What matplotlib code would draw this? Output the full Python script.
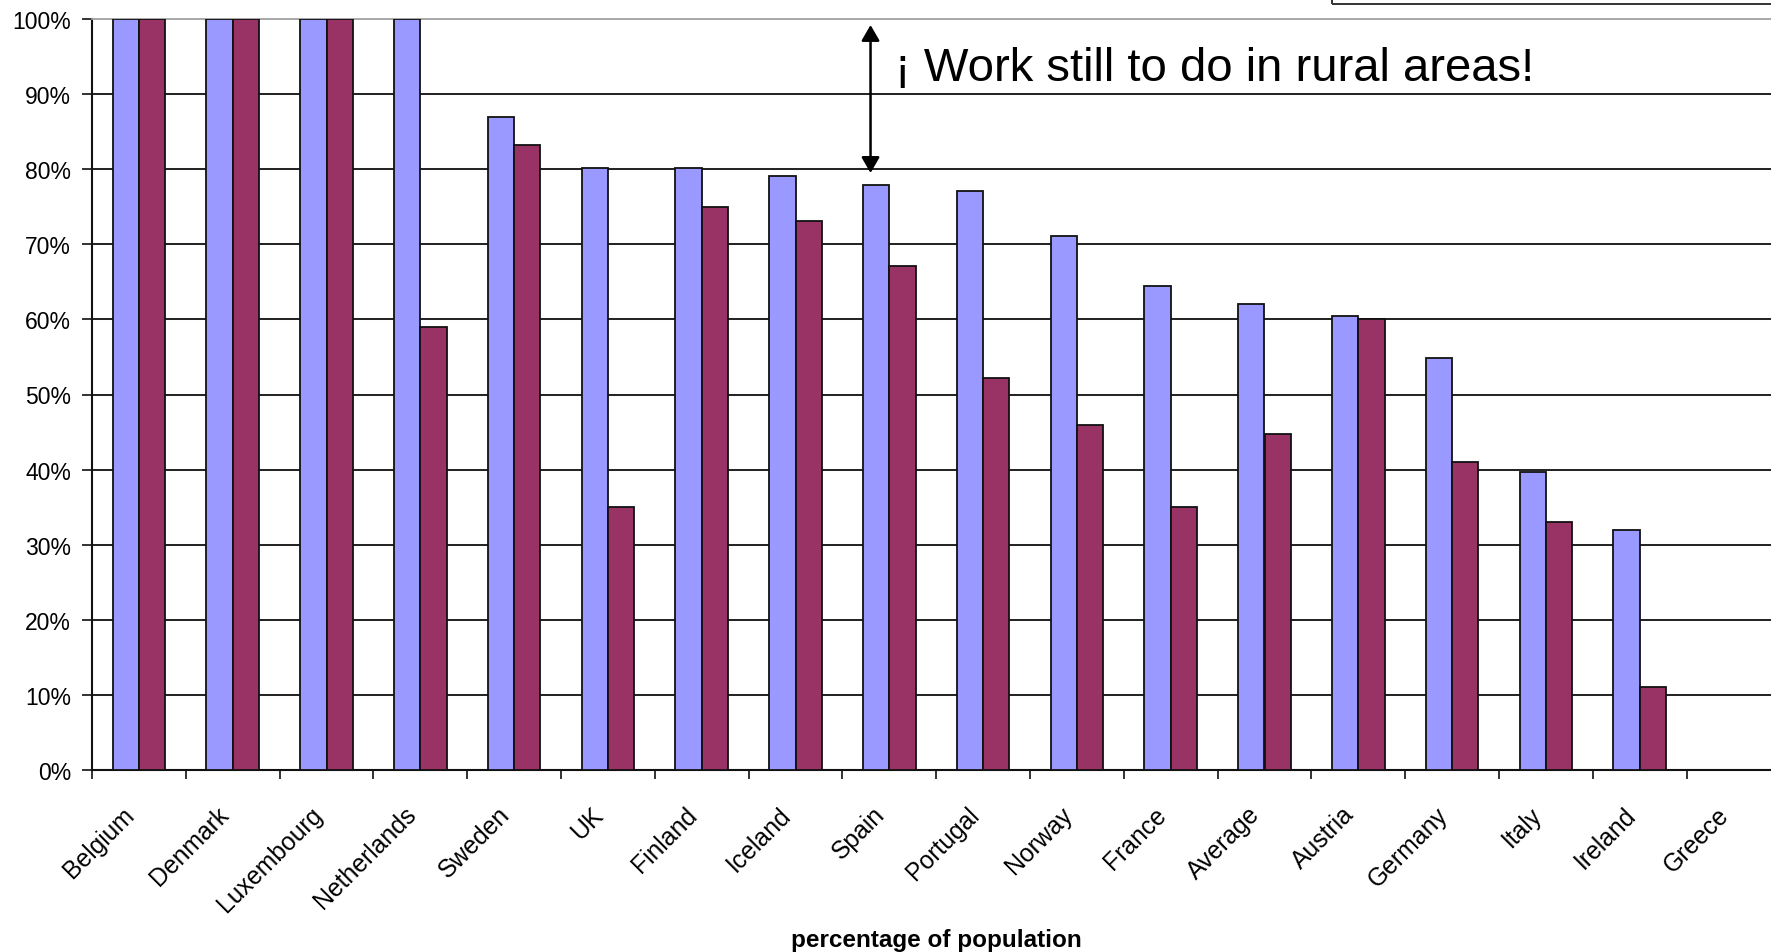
import matplotlib
matplotlib.use("Agg")
import matplotlib.pyplot as plt
import matplotlib.transforms as mtransforms
from matplotlib.patches import Rectangle
import numpy as np

countries = ["Belgium", "Denmark", "Luxembourg", "Netherlands", "Sweden", "UK",
             "Finland", "Iceland", "Spain", "Portugal", "Norway", "France",
             "Average", "Austria", "Germany", "Italy", "Ireland", "Greece"]
series_a = [100, 100, 100, 100, 87, 80.2, 80.2, 79.1, 77.9, 77.1, 71.1, 64.5,
            62.1, 60.5, 54.9, 39.7, 32, 0]
series_b = [100, 100, 100, 59, 83.2, 35, 75, 73.1, 67.1, 52.2, 46, 35,
            44.7, 60, 41, 33, 11, 0]
y_ticks = [0, 10, 20, 30, 40, 50, 60, 70, 80, 90, 100]
y_tick_labels = [f"{v}%" for v in y_ticks]
x_label = "percentage of population"
note = "¡ Work still to do in rural areas!"

plt.rcParams['font.family'] = ['Liberation Sans', 'DejaVu Sans']

W, H = 1771, 953
fig = plt.figure(figsize=(W / 100, H / 100), dpi=100)
ax_left, ax_right, ax_top, ax_bottom = 92, 1780.4, 20, 771
ax = fig.add_axes([ax_left / W, (H - ax_bottom) / H,
                   (ax_right - ax_left) / W, (ax_bottom - ax_top) / H])

x = np.arange(len(countries))
bw = 0.28
ax.bar(x - bw / 2, series_a, bw, color="#9999FF", edgecolor="#111111",
       linewidth=1.3, zorder=3)
ax.bar(x + bw / 2, series_b, bw, color="#993366", edgecolor="#111111",
       linewidth=1.3, zorder=3)

ax.set_xlim(-0.5, len(countries) - 0.5)
ax.set_ylim(0, 100)

# gridlines
for v in y_ticks[1:-1]:
    ax.axhline(v, color="#262626", lw=1.45, zorder=1)

ax.set_yticks(y_ticks)
ax.set_yticklabels(y_tick_labels, fontsize=16.5)
ax.tick_params(axis='y', direction='out', length=7.2, width=1.2, pad=8,
               color="#111111")

ax.set_xticks(np.arange(len(countries) + 1) - 0.5)
ax.set_xticklabels([])
ax.tick_params(axis='x', which='major', direction='out', length=6.5,
               width=1.2, color="#111111")
ax.set_xticks(x, minor=True)
ax.set_xticklabels(countries, minor=True, fontsize=17.8, rotation=45,
                   ha='right', va='center', rotation_mode='anchor')
ax.tick_params(axis='x', which='minor', length=0, pad=29)
offset = mtransforms.ScaledTranslation(-8 / 100, 0, fig.dpi_scale_trans)
for lbl in ax.xaxis.get_minorticklabels():
    lbl.set_transform(lbl.get_transform() + offset)

for side in ["left", "bottom"]:
    ax.spines[side].set_color("#111111")
    ax.spines[side].set_linewidth(1.5)
ax.spines["top"].set_color("#a0a0a0")
ax.spines["top"].set_linewidth(1.3)
ax.spines["right"].set_visible(False)

ax.set_xlabel(x_label, fontsize=17.5, fontweight='bold', va='baseline')
ax.xaxis.set_label_coords(0.5, -(947 - ax_bottom) / (ax_bottom - ax_top))

# annotation arrow and text
ax.annotate("", xy=(7.80, 79.5), xytext=(7.80, 99.2),
            arrowprops=dict(arrowstyle="<|-|>,head_length=0.95,head_width=0.55",
                            color="black", lw=1.8, shrinkA=0, shrinkB=0),
            zorder=5)
ax.text(8.06, 91.9, note, fontsize=34, va='baseline', ha='left', zorder=5)

# partially visible legend box at top right
fig.patches.append(Rectangle((1332 / W, (H - 5) / H), 0.4, 0.1,
                             transform=fig.transFigure, fill=False,
                             edgecolor="#333333", lw=1.4))

fig.savefig("out.png", dpi=100, facecolor="white")
